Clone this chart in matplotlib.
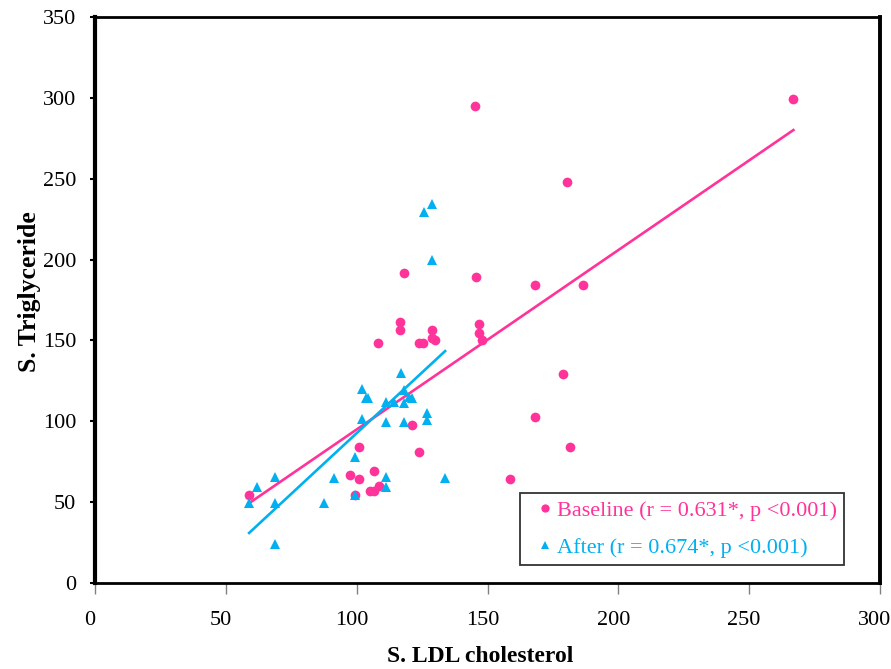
import matplotlib.pyplot as plt
import matplotlib.transforms as mtransforms
import numpy as np

# baseline (pink circles)
base_ldl = [58.9, 97.3, 99.3, 100.8, 100.8, 105.2, 106.5, 106.6, 108.4, 121.2, 124.0,
            108.3, 116.5, 116.5, 118.0, 123.9, 125.2, 128.9, 128.6, 129.9,
            145.2, 145.6, 146.9, 146.9, 148.0, 158.7, 168.1, 168.1, 178.9, 180.5,
            181.6, 186.4, 266.9]
base_tg = [54.4, 66.8, 54.4, 84.3, 64.3, 57.1, 57.1, 69.5, 60.0, 97.7, 81.0,
           148.4, 161.6, 156.3, 191.5, 148.4, 148.4, 156.5, 151.3, 150.3,
           295.0, 189.0, 160.0, 154.9, 150.3, 64.1, 184.5, 102.8, 129.2, 247.8,
           84.3, 184.5, 299.5]

# after (blue triangles)
after_ldl = [58.9, 61.8, 68.6, 68.6, 68.6, 87.5, 91.3, 99.2, 99.2, 102.2, 102.2,
             103.4, 104.3, 111.1, 114.2, 117.9, 117.9, 117.0, 120.0, 121.0,
             126.9, 126.9, 111.1, 117.9, 111.1, 111.1, 133.8, 125.9, 128.9, 128.9]
after_tg = [49.3, 59.6, 65.8, 49.7, 23.9, 49.7, 64.7, 77.7, 54.4, 119.8, 101.2,
            114.2, 114.2, 111.7, 111.7, 119.4, 111.3, 129.7, 114.8, 114.2,
            104.9, 100.8, 99.8, 99.8, 65.8, 59.6, 64.7, 229.4, 234.6, 199.6]

pink = '#FF3399'
blue = '#00B0F0'

plt.rcParams['font.family'] = ['Liberation Serif', 'DejaVu Serif']

fig = plt.figure(figsize=(8.91, 6.69), dpi=100)
ax = fig.add_axes([95/891, 1-583/669, 785/891, 566/669])

ax.plot(base_ldl, base_tg, 'o', color=pink, markersize=7, markeredgewidth=0,
        label='Baseline (r = 0.631*, p <0.001)', zorder=3)
ax.plot(after_ldl, after_tg, '^', color=blue, markersize=7, markeredgewidth=0,
        label='After (r = 0.674*, p <0.001)', zorder=4)

# regression lines over each data range
for xs, ys, c in [(base_ldl, base_tg, pink), (after_ldl, after_tg, blue)]:
    xs = np.array(xs)
    k, b = np.polyfit(xs, ys, 1)
    xx = np.array([xs.min(), xs.max()])
    ax.plot(xx, k*xx + b, '-', color=c, linewidth=1.9, zorder=2)

ax.set_xlim(0, 300)
ax.set_ylim(0, 350)
ax.set_xticks(range(0, 301, 50))
ax.set_yticks(range(0, 351, 50))
ax.tick_params(axis='x', direction='out', length=8, width=1, color='#808080',
               labelsize=16, pad=12)
ax.tick_params(axis='y', direction='out', length=3.5, width=1.5, color='black',
               labelsize=16, pad=10)
# x tick labels sit a little left of their ticks
shift = mtransforms.ScaledTranslation(-5/100, 0, fig.dpi_scale_trans)
for lab in ax.get_xticklabels():
    lab.set_transform(lab.get_transform() + shift)

ax.spines['left'].set_linewidth(3)
ax.spines['right'].set_linewidth(2.8)
ax.spines['top'].set_linewidth(2)
ax.spines['bottom'].set_linewidth(2)

ax.set_xlabel('S. LDL cholesterol', fontsize=17, fontweight='bold')
ax.set_ylabel('S. Triglyceride', fontsize=18.5, fontweight='bold')
ax.xaxis.set_label_coords((480 - 95)/785, -(657 - 583)/566)
ax.yaxis.set_label_coords(-(95 - 30)/785, (583 - 292)/566)
ax.xaxis.label.set_va('center')
ax.yaxis.label.set_va('center')

leg = ax.legend(loc='lower right', bbox_to_anchor=((844 - 95)/785, 18/566), fontsize=16,
                frameon=True, fancybox=False, edgecolor='black', handlelength=1.62,
                handletextpad=-0.27, markerscale=0.85, borderpad=0.32, labelspacing=0.73,
                borderaxespad=0)
leg.get_frame().set_linewidth(1.3)
for t, c in zip(leg.get_texts(), [pink, blue]):
    t.set_color(c)

fig.savefig('out.png', dpi=100)
